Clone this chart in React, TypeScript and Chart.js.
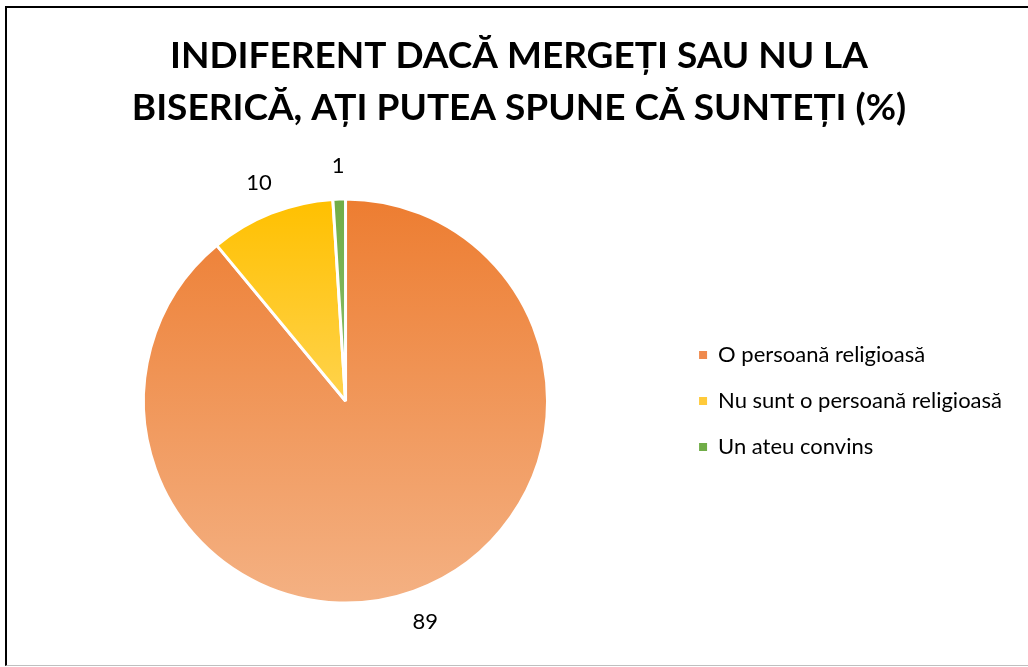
import React, { useEffect, useRef } from "react";
import { Chart, registerables } from "chart.js";
Chart.register(...registerables);

const categories = ["O persoană religioasă", "Nu sunt o persoană religioasă", "Un ateu convins"];
const values = [89, 10, 1];
const titleLines = ["INDIFERENT DACĂ MERGEȚI SAU NU LA", "BISERICĂ, AȚI PUTEA SPUNE CĂ SUNTEȚI (%)"];
const topColors = ["#ED7D31", "#FFC000", "#70AD47"];
const bottomColors = ["#F4B183", "#FFE699", "#A9D18E"];
const legendColors = ["#EF8A4E", "#FFCA3A", "#70AD47"];

const PIE_RADIUS = 202;
const FONT = "Lato, 'Open Sans', sans-serif";

const titlePlugin = {
  id: "slideTitle",
  afterDraw(chart: any) {
    const ctx = chart.ctx;
    ctx.save();
    ctx.font = "bold 37px " + FONT;
    ctx.fillStyle = "#000";
    ctx.textAlign = "center";
    ctx.textBaseline = "middle";
    titleLines.forEach((line, i) => {
      ctx.fillText(line, 519, 56 + i * 52);
    });
    ctx.restore();
  },
};

const labelPlugin = {
  id: "outLabels",
  afterDatasetsDraw(chart: any) {
    const ctx = chart.ctx;
    const meta = chart.getDatasetMeta(0);
    ctx.save();
    ctx.font = "22px " + FONT;
    ctx.fillStyle = "#000";
    ctx.textAlign = "center";
    ctx.textBaseline = "middle";
    meta.data.forEach((arc: any, i: number) => {
      const p = arc.getProps(["x", "y", "startAngle", "endAngle", "outerRadius"], true);
      const mid = (p.startAngle + p.endAngle) / 2;
      const d = p.outerRadius + 33;
      ctx.fillText(String(values[i]), p.x + Math.cos(mid) * d, p.y + Math.sin(mid) * d);
    });
    ctx.restore();
  },
};

export default function App() {
  const ref = useRef<HTMLCanvasElement | null>(null);
  useEffect(() => {
    document.body.style.margin = "0";
    document.body.style.overflow = "hidden";
    const canvas = ref.current!;
    const bg = (c: any) => {
      const chart = c.chart;
      const area = chart.chartArea;
      const i = c.dataIndex;
      if (!area || i === undefined) return topColors[i ?? 0];
      const cy = (area.top + area.bottom) / 2;
      const g = chart.ctx.createLinearGradient(0, cy - PIE_RADIUS, 0, cy + PIE_RADIUS);
      g.addColorStop(0, topColors[i]);
      g.addColorStop(1, bottomColors[i]);
      return g;
    };
    const chart = new Chart(canvas, {
      type: "pie",
      data: {
        labels: categories,
        datasets: [
          {
            data: values,
            backgroundColor: bg as any,
            borderColor: "#ffffff",
            borderWidth: 3,
            radius: PIE_RADIUS,
          } as any,
        ],
      },
      options: {
        animation: false,
        responsive: false,
        maintainAspectRatio: false,
        layout: { padding: { left: 16, right: 16, top: 140, bottom: 5 } },
        plugins: {
          title: { display: false },
          legend: {
            position: "right",
            fullSize: false,
            labels: {
              boxWidth: 8,
              boxHeight: 8,
              padding: 24,
              color: "#000",
              font: { family: FONT, size: 22 },
              generateLabels: () =>
                categories.map((t, i) => ({
                  text: t,
                  fillStyle: legendColors[i],
                  strokeStyle: legendColors[i],
                  lineWidth: 0,
                  hidden: false,
                  index: i,
                })),
            },
          },
          tooltip: { enabled: false },
        },
      },
      plugins: [labelPlugin, titlePlugin],
    });
    return () => chart.destroy();
  }, []);
  return (
    <div style={{ position: "relative", width: 1028, height: 667, overflow: "hidden" }}>
      <div
        style={{
          position: "absolute",
          left: 5,
          top: 6,
          width: 1100,
          height: 660,
          boxSizing: "border-box",
          borderLeft: "2px solid #000",
          borderTop: "2px solid #000",
          borderBottom: "1px solid #bfbfbf",
        }}
      />
      <canvas ref={ref} width={1028} height={667} style={{ position: "absolute", left: 0, top: 0 }} />
    </div>
  );
}
